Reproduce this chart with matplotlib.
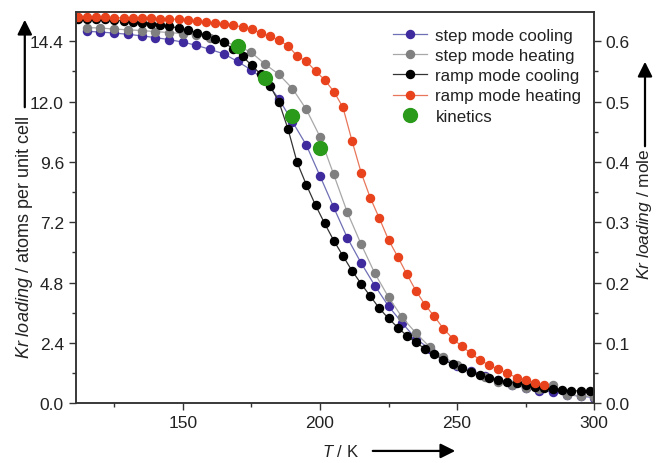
import matplotlib
matplotlib.use("Agg")
import matplotlib.pyplot as plt
from matplotlib.patches import FancyArrowPatch
from matplotlib.ticker import MultipleLocator

plt.rcParams["font.family"] = ["Liberation Sans", "DejaVu Sans"]
plt.rcParams["mathtext.fontset"] = "custom"
plt.rcParams["mathtext.rm"] = "Liberation Sans"
plt.rcParams["mathtext.it"] = "Liberation Sans:italic"

# Step-mode measurements (5 K steps)
T_step = [115, 120, 125, 130, 135, 140, 145, 150, 155, 160, 165, 170, 175, 180,
          185, 190, 195, 200, 205, 210, 215, 220, 225, 230, 235, 240, 245, 250,
          255, 260, 265, 270, 275, 280, 285, 290, 295, 300]
step_cooling = [14.80, 14.77, 14.73, 14.68, 14.62, 14.55, 14.47, 14.37, 14.24,
                14.08, 13.90, 13.60, 13.26, 12.85, 12.12, 11.20, 10.28, 9.05,
                7.80, 6.58, 5.58, 4.68, 3.86, 3.19, 2.56, 2.16, 1.76, 1.47,
                1.29, 1.09, 0.93, 0.73, 0.62, 0.49, 0.45, 0.33, 0.28, 0.22]
step_heating = [14.95, 14.93, 14.89, 14.86, 14.83, 14.79, 14.75, 14.71, 14.65,
                14.55, 14.38, 14.22, 13.96, 13.49, 13.09, 12.52, 11.70, 10.61,
                9.11, 7.59, 6.33, 5.17, 4.22, 3.41, 2.79, 2.24, 1.85, 1.50,
                1.25, 1.03, 0.85, 0.72, 0.62, 0.55, 0.72, 0.33, 0.30, 0.25]

# Ramp-mode measurements (continuous ramp, ~3.33 K sampling)
T_ramp = [111.8, 115.2, 118.5, 121.8, 125.1, 128.5, 131.8, 135.1, 138.5, 141.8,
          145.1, 148.5, 151.8, 155.1, 158.4, 161.8, 165.1, 168.4, 171.8, 175.1,
          178.4, 181.8, 185.1, 188.4, 191.7, 195.1, 198.4, 201.7, 205.1, 208.4,
          211.7, 215.1, 218.4, 221.7, 225.0, 228.4, 231.7, 235.0, 238.4, 241.7,
          245.0, 248.4, 251.7, 255.0, 258.3, 261.7, 265.0, 268.3, 271.7, 275.0,
          278.3, 281.7, 285.0, 288.3, 291.6, 295.0, 298.3]
ramp_cooling = [15.30, 15.30, 15.29, 15.27, 15.24, 15.22, 15.19, 15.15, 15.11,
                15.06, 15.00, 14.93, 14.85, 14.75, 14.65, 14.51, 14.36, 14.09,
                13.80, 13.45, 13.09, 12.63, 11.98, 10.90, 9.58, 8.68, 7.88,
                7.16, 6.46, 5.86, 5.27, 4.74, 4.25, 3.77, 3.37, 3.01, 2.68,
                2.42, 2.15, 1.95, 1.72, 1.55, 1.38, 1.25, 1.11, 1.02, 0.93,
                0.85, 0.80, 0.72, 0.66, 0.60, 0.56, 0.53, 0.49, 0.49, 0.49]
T_ramp_heat = T_ramp[:52]
ramp_heating = [15.35, 15.35, 15.35, 15.35, 15.34, 15.33, 15.33, 15.32, 15.31,
                15.30, 15.29, 15.27, 15.24, 15.21, 15.17, 15.13, 15.09, 15.04,
                14.97, 14.88, 14.74, 14.60, 14.44, 14.22, 13.82, 13.60, 13.22,
                12.87, 12.40, 11.77, 10.44, 9.15, 8.16, 7.35, 6.50, 5.82, 5.13,
                4.47, 3.90, 3.45, 2.97, 2.57, 2.26, 1.99, 1.72, 1.51, 1.35,
                1.18, 1.02, 0.92, 0.82, 0.72]

# Kinetic experiments
T_kin = [170, 180, 190, 200]
kinetics = [14.20, 12.96, 11.44, 10.14]

ATOMS_PER_MOLE = 24.0

fig = plt.figure(figsize=(6.70, 4.64), dpi=100)
ax = fig.add_axes([0.113, 0.129, 0.774, 0.842])

ms = 5.8
ax.plot(T_step, step_cooling, "-o", color="#6f6fb5", mfc="#3f2a9e", mec="#3f2a9e",
        ms=ms, lw=0.9, label="step mode cooling")
ax.plot(T_step, step_heating, "-o", color="#a8a8a8", mfc="#808080", mec="#808080",
        ms=ms, lw=0.9, label="step mode heating")
ax.plot(T_ramp, ramp_cooling, "-o", color="#333333", mfc="#000000", mec="#000000",
        ms=ms, lw=0.9, label="ramp mode cooling")
ax.plot(T_ramp_heat, ramp_heating, "-o", color="#e8765a", mfc="#e8431c", mec="#e8431c",
        ms=ms, lw=0.9, label="ramp mode heating")
ax.plot(T_kin, kinetics, "o", color="#2a9a1a", ms=10, ls="none", label="kinetics")

ax.set_xlim(111, 300)
ax.set_ylim(0, 15.55)
ax.xaxis.set_major_locator(MultipleLocator(50))
ax.xaxis.set_minor_locator(MultipleLocator(25))
ax.yaxis.set_major_locator(MultipleLocator(2.4))
ax.yaxis.set_minor_locator(MultipleLocator(1.2))
ax.yaxis.set_major_formatter(plt.FuncFormatter(lambda v, p: f"{v:.1f}"))

ax2 = ax.twinx()
ax2.set_ylim(0, 15.55 / ATOMS_PER_MOLE)
ax2.yaxis.set_major_locator(MultipleLocator(0.1))
ax2.yaxis.set_minor_locator(MultipleLocator(0.05))
ax2.yaxis.set_major_formatter(plt.FuncFormatter(lambda v, p: f"{v:.1f}"))

for a in (ax, ax2):
    for s in a.spines.values():
        s.set_color("#333333")
        s.set_linewidth(1.1)
ax.tick_params(axis="both", which="both", direction="out", colors="#333333",
               labelcolor="#222222", labelsize=12.5, top=False, right=False)
ax.tick_params(which="major", length=5, width=1)
ax.tick_params(which="minor", length=3, width=1)
ax2.tick_params(axis="y", which="both", direction="out", colors="#333333",
                labelcolor="#222222", labelsize=12.5, pad=3)
ax2.tick_params(which="major", length=5, width=1)
ax2.tick_params(which="minor", length=3, width=1)

leg = ax.legend(loc="upper left", bbox_to_anchor=(0.589, 0.99), frameon=False,
                fontsize=12.2, handlelength=2.0, handletextpad=0.5,
                labelspacing=0.3, borderaxespad=0.3)
for t in leg.get_texts():
    t.set_color("#222222")

# Axis titles with direction arrows
fig.text(0.037, 1 - 238 / 464, r"$\it{Kr\ loading}$ / atoms per unit cell", rotation=90,
         ha="center", va="center", fontsize=13, color="#222222")
fig.text(645 / 670, 1 - 214 / 464, r"$\it{Kr\ loading}$ / mole", rotation=90,
         ha="center", va="center", fontsize=12.5, color="#222222")
fig.text(340 / 670, 0.026, r"$\it{T}$ / K", ha="center", va="center",
         fontsize=12, color="#222222")

arrow = dict(arrowstyle="-|>", color="black", lw=1.6, mutation_scale=22)
fig.add_artist(FancyArrowPatch(
    (0.037, 1 - 111 / 464), (0.037, 1 - 18 / 464), transform=fig.transFigure, **arrow))
fig.add_artist(FancyArrowPatch(
    (645 / 670, 1 - 150 / 464), (645 / 670, 1 - 60 / 464), transform=fig.transFigure, **arrow))
fig.add_artist(FancyArrowPatch(
    (370 / 670, 0.026), (458 / 670, 0.026), transform=fig.transFigure, **arrow))

fig.savefig("out.png", dpi=100)
